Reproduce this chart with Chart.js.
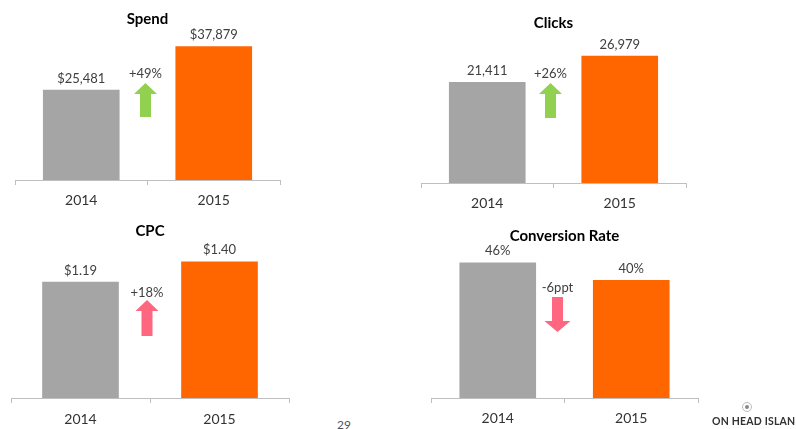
<!DOCTYPE html>
<html>
<head>
<meta charset="utf-8">
<script src="https://cdn.jsdelivr.net/npm/chart.js@4/dist/chart.umd.min.js"></script>
<style>
  body { margin: 0; background: #fff; width: 796px; height: 429px; position: relative; overflow: hidden; font-family: Lato, sans-serif; }
  canvas { position: absolute; }
  .page { position: absolute; left: 337px; top: 417px; font-size: 12px; color: #555; }
  .logo { position: absolute; left: 712px; top: 415px; font-size: 10.5px; font-weight: bold; color: #333; white-space: nowrap; letter-spacing: 0.2px; }
  .logo-icon { position: absolute; left: 742px; top: 402px; width: 8px; height: 8px; border: 1px solid #bbb; border-radius: 50%; }
  .logo-icon::after { content: ''; position: absolute; left: 2px; top: 2px; width: 4px; height: 4px; border-radius: 50%; background: #888; }
</style>
</head>
<body>
<canvas id="spend" width="300" height="215" style="left:0;top:0"></canvas>
<canvas id="clicks" width="300" height="215" style="left:400px;top:0"></canvas>
<canvas id="cpc" width="300" height="214" style="left:0;top:215px"></canvas>
<canvas id="conv" width="320" height="214" style="left:400px;top:215px"></canvas>
<div class="page">29</div>
<div class="logo-icon"></div>
<div class="logo">ON HEAD ISLAN</div>
<script>
// data
const years = ['2014', '2015']
const spend = [25481, 37879]
const clicks = [21411, 26979]
const cpc = [1.19, 1.40]
const conversion = [46, 40]
const changes = ['+49%', '+26%', '+18%', '-6ppt']

const GRAY = '#A5A5A5'
const ORANGE = '#FF6600'
const GREEN = '#92D050'
const PINK = '#FF6680'

// value above each bar
const valueLabels = {
  id: 'valueLabels',
  afterDatasetsDraw (chart, args, opts) {
    const ctx = chart.ctx
    const meta = chart.getDatasetMeta(0)
    ctx.save()
    ctx.font = '13px Lato'
    ctx.fillStyle = '#404040'
    ctx.textAlign = 'center'
    ctx.textBaseline = 'bottom'
    meta.data.forEach((bar, i) => {
      ctx.fillText(opts.format(chart.data.datasets[0].data[i]), bar.x, bar.y - 5)
    })
    ctx.restore()
  }
}

// change text + arrow between the bars
const changeArrow = {
  id: 'changeArrow',
  afterDatasetsDraw (chart, args, opts) {
    const ctx = chart.ctx
    const xs = chart.scales.x
    const area = chart.chartArea
    const cx = (xs.getPixelForValue(0) + xs.getPixelForValue(1)) / 2 + opts.dx
    ctx.save()
    ctx.font = '13px Lato'
    ctx.fillStyle = '#404040'
    ctx.textAlign = 'center'
    ctx.textBaseline = 'middle'
    ctx.fillText(opts.text, cx, area.top + opts.textY)
    const top = area.top + opts.top
    const bottom = area.top + opts.bottom
    const hw = opts.head / 2
    const sw = 5.5
    const hh = 11
    ctx.fillStyle = opts.color
    ctx.beginPath()
    if (opts.dir === 'up') {
      ctx.moveTo(cx, top)
      ctx.lineTo(cx + hw, top + hh)
      ctx.lineTo(cx + sw, top + hh)
      ctx.lineTo(cx + sw, bottom)
      ctx.lineTo(cx - sw, bottom)
      ctx.lineTo(cx - sw, top + hh)
      ctx.lineTo(cx - hw, top + hh)
    } else {
      ctx.moveTo(cx - sw, top)
      ctx.lineTo(cx + sw, top)
      ctx.lineTo(cx + sw, bottom - hh)
      ctx.lineTo(cx + hw, bottom - hh)
      ctx.lineTo(cx, bottom)
      ctx.lineTo(cx - hw, bottom - hh)
      ctx.lineTo(cx - sw, bottom - hh)
    }
    ctx.closePath()
    ctx.fill()
    ctx.restore()
  }
}

function makeChart (id, title, values, max, format, arrow, box) {
  return new Chart(document.getElementById(id), {
    type: 'bar',
    data: {
      labels: years,
      datasets: [{
        data: values,
        backgroundColor: [GRAY, ORANGE],
        barThickness: 76
      }]
    },
    options: {
      responsive: false,
      animation: false,
      layout: { padding: { left: box.left, right: box.right, top: 0, bottom: 0 } },
      plugins: {
        legend: { display: false },
        tooltip: { enabled: false },
        title: {
          display: true,
          text: title,
          color: '#000',
          font: { family: 'Lato', size: 15, weight: 'bold' },
          padding: { top: box.titleTop, bottom: box.titleBottom }
        },
        valueLabels: { format },
        changeArrow: arrow
      },
      scales: {
        y: { display: false, min: 0, max },
        x: {
          afterFit: (scale) => { scale.height = box.axis },
          border: { color: '#BFBFBF', width: 1 },
          grid: { drawOnChartArea: false, drawTicks: true, tickLength: 5, color: '#BFBFBF', offset: true },
          ticks: { color: '#333', padding: box.pad, font: { family: 'Lato', size: 14 } }
        }
      }
    },
    plugins: [valueLabels, changeArrow]
  })
}

const money = (v) => '$' + v.toLocaleString('en-US')

makeChart('spend', 'Spend', spend, 40000, money,
  { text: changes[0], dir: 'up', color: GREEN, textY: 35, top: 44, bottom: 78, head: 23, dx: -2 },
  { left: 15, right: 20, titleTop: 10, titleBottom: 11, axis: 35, pad: 7 })

makeChart('clicks', 'Clicks', clicks, 30000, (v) => v.toLocaleString('en-US'),
  { text: changes[1], dir: 'up', color: GREEN, textY: 32, top: 41, bottom: 76, head: 23, dx: -3 },
  { left: 21, right: 14, titleTop: 14, titleBottom: 10, axis: 32, pad: 7 })

makeChart('cpc', 'CPC', cpc, 1.5, (v) => '$' + v.toFixed(2),
  { text: changes[2], dir: 'up', color: PINK, textY: 41, top: 48, bottom: 84, head: 23, dx: -3 },
  { left: 11, right: 11, titleTop: 7, titleBottom: 12, axis: 31, pad: 8 })

makeChart('conv', 'Conversion Rate', conversion, 50, (v) => v + '%',
  { text: changes[3], dir: 'down', color: PINK, textY: 37, top: 46, bottom: 81, head: 26, dx: -7 },
  { left: 31, right: 22, titleTop: 12, titleBottom: 6, axis: 31, pad: 7 })
</script>
</body>
</html>
